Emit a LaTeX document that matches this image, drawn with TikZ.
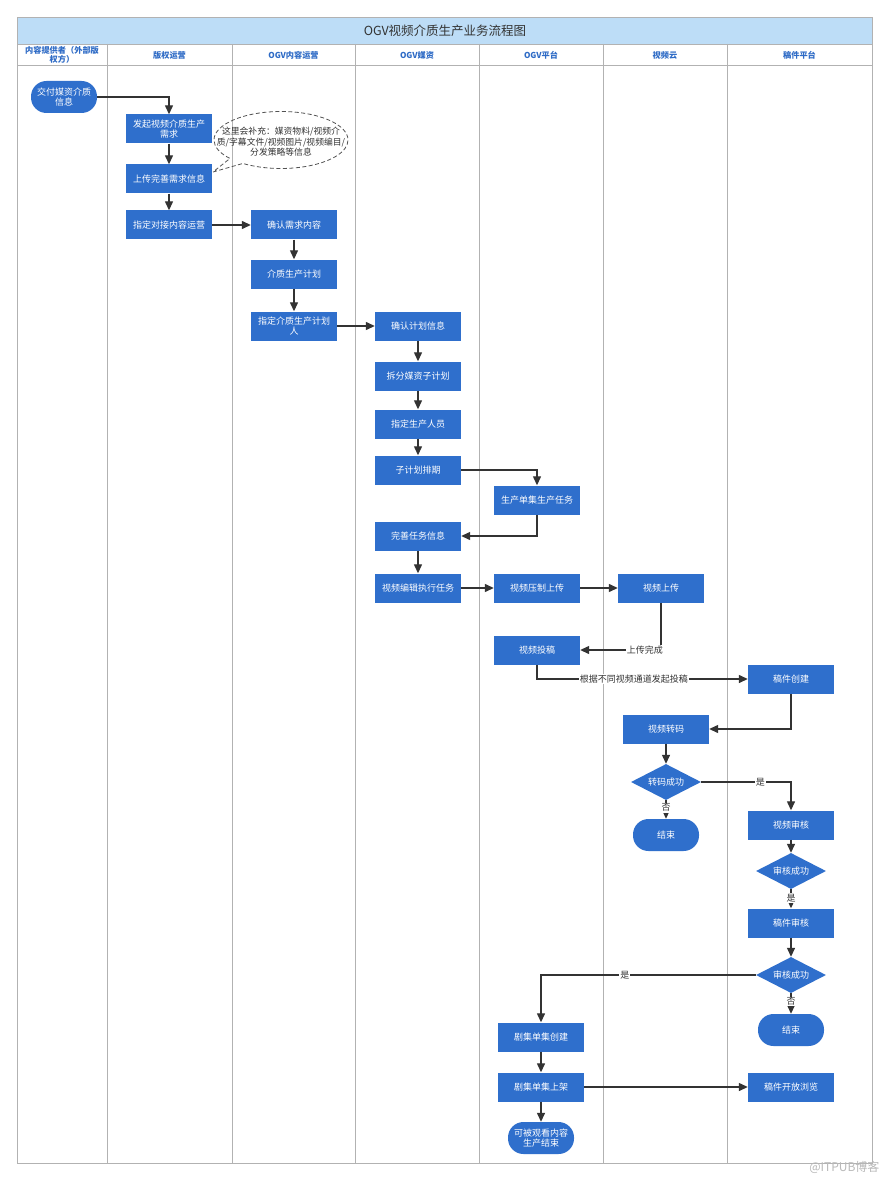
\documentclass[tikz,border=0pt]{standalone}
\usepackage{fontspec}
\setmainfont{Noto Sans CJK SC}
\usetikzlibrary{shapes.geometric,shapes.callouts,arrows.meta}
\definecolor{boxblue}{RGB}{47,111,204}
\definecolor{titlebg}{RGB}{189,221,247}
\definecolor{lanetext}{RGB}{46,107,198}
\definecolor{gridline}{RGB}{178,178,178}
\definecolor{arrowc}{RGB}{51,51,51}
\definecolor{wmark}{RGB}{185,185,185}
\tikzset{
 proc/.style={fill=boxblue, text=white, minimum width=86pt, minimum height=29pt, inner sep=1pt, align=center, font=\fontsize{9}{10.5}\selectfont},
 term/.style={fill=boxblue, text=white, rounded corners=15.5pt, minimum width=66pt, minimum height=32pt, inner sep=1pt, align=center, font=\fontsize{9}{10.5}\selectfont},
 dec/.style={diamond, fill=boxblue, text=white, minimum width=70pt, minimum height=36pt, inner sep=0pt, aspect=2, font=\fontsize{9}{10.5}\selectfont},
 flow/.style={draw=arrowc, line width=1.3pt, -{Triangle[length=9pt,width=8pt]}},
 lbl/.style={fill=white, text=arrowc, inner sep=1pt, font=\fontsize{9}{10}\selectfont},
 lane/.style={text=lanetext, align=center, font=\bfseries\fontsize{8.2}{9.5}\selectfont},
 grid/.style={draw=gridline, line width=0.8pt},
}
\begin{document}
\begin{tikzpicture}[x=1pt,y=-1pt]
\useasboundingbox (0,0) rectangle (890,1182);
\fill[white] (0,0) rectangle (890,1182);
% frame
\fill[titlebg] (17,17) rectangle (872,44);
\draw[grid] (17,17) rectangle (872,1163);
\draw[grid] (17,44) -- (872,44);
\draw[grid] (17,65) -- (872,65);
\foreach \x in {107,232,355,479,603,727} \draw[grid] (\x,44) -- (\x,1163);
\node[text=arrowc, font=\fontsize{12.5}{14}\selectfont] (title) at (445,31) {OGV视频介质生产业务流程图};
% lane labels
\node[lane] (l1) at (62,55) {内容提供者（外部版\\权方）};
\node[lane] (l2) at (169.5,55) {版权运营};
\node[lane] (l3) at (293.5,55) {OGV内容运营};
\node[lane] (l4) at (417,55) {OGV媒资};
\node[lane] (l5) at (541,55) {OGV平台};
\node[lane] (l6) at (665,55) {视频云};
\node[lane] (l7) at (799.5,55) {稿件平台};
% callout
\node[ellipse callout, draw=arrowc!85, dashed, dash pattern=on 4pt off 2.5pt, line width=0.8pt, minimum width=134pt, minimum height=57pt, inner sep=0pt, callout absolute pointer={(213,172)}] (note) at (281,140) {};
\node[text=arrowc, align=center, font=\fontsize{8.8}{10.5}\selectfont] (notetxt) at (281,142) {这里会补充：媒资物料/视频介\\质/字幕文件/视频图片/视频编目/\\分发策略等信息};
% nodes
\node[term] (a1) at (64,97) {交付媒资介质\\信息};
\node[proc] (b1) at (169,129) {发起视频介质生产\\需求};
\node[proc] (b2) at (169,179) {上传完善需求信息};
\node[proc] (b3) at (169,225) {指定对接内容运营};
\node[proc] (c1) at (294,225) {确认需求内容};
\node[proc] (c2) at (294,274) {介质生产计划};
\node[proc] (c3) at (294,326) {指定介质生产计划\\人};
\node[proc] (d1) at (418,326) {确认计划信息};
\node[proc] (d2) at (418,376) {拆分媒资子计划};
\node[proc] (d3) at (418,424) {指定生产人员};
\node[proc] (d4) at (418,470) {子计划排期};
\node[proc] (e1) at (537,500) {生产单集生产任务};
\node[proc] (d5) at (418,536) {完善任务信息};
\node[proc] (d6) at (418,588) {视频编辑执行任务};
\node[proc] (e2) at (537,588) {视频压制上传};
\node[proc] (f1) at (661,588) {视频上传};
\node[proc] (e3) at (537,650) {视频投稿};
\node[proc] (g1) at (791,679) {稿件创建};
\node[proc] (f2) at (666,729) {视频转码};
\node[dec] (f3) at (666,782) {转码成功};
\node[term] (f4) at (666,835) {结束};
\node[proc] (g2) at (791,825) {视频审核};
\node[dec] (g3) at (791,871) {审核成功};
\node[proc] (g4) at (791,923) {稿件审核};
\node[dec] (g5) at (791,975) {审核成功};
\node[term] (g6) at (791,1030) {结束};
\node[proc] (e4) at (541,1037) {剧集单集创建};
\node[proc] (e5) at (541,1087) {剧集单集上架};
\node[proc] (g7) at (791,1087) {稿件开放浏览};
\node[term] (e6) at (541,1138) {可被观看内容\\生产结束};
% connectors
\draw[flow] (a1.east) -| (b1.north);
\draw[flow] (b1) -- (b2);
\draw[flow] (b2) -- (b3);
\draw[flow] (b3) -- (c1);
\draw[flow] (c1) -- (c2);
\draw[flow] (c2) -- (c3);
\draw[flow] (c3) -- (d1);
\draw[flow] (d1) -- (d2);
\draw[flow] (d2) -- (d3);
\draw[flow] (d3) -- (d4);
\draw[flow] (d4.east) -| (e1.north);
\draw[flow] (e1.south) |- (d5.east);
\draw[flow] (d5) -- (d6);
\draw[flow] (d6) -- (e2);
\draw[flow] (e2) -- (f1);
\draw[flow] (f1.south) |- node[lbl, pos=0.6] {上传完成} (e3.east);
\draw[flow] (e3.south) |- node[lbl, pos=0.73] {根据不同视频通道发起投稿} (g1.west);
\draw[flow] (g1.south) |- (f2.east);
\draw[flow] (f2) -- (f3);
\draw[flow] (f3.south) -- node[lbl, pos=0.4] {否} (f4.north);
\draw[flow] (f3.east) -| node[lbl, pos=0.33] {是} (g2.north);
\draw[flow] (g2) -- (g3);
\draw[flow] (g3.south) -- node[lbl, pos=0.45] {是} (g4.north);
\draw[flow] (g4) -- (g5);
\draw[flow] (g5.south) -- node[lbl, pos=0.4] {否} (g6.north);
\draw[flow] (g5.west) -| node[lbl, pos=0.305] {是} (e4.north);
\draw[flow] (e4) -- (e5);
\draw[flow] (e5) -- (g7);
\draw[flow] (e5) -- (e6);
% watermark
\node[text=wmark, font=\fontsize{12}{13}\selectfont, anchor=east] (wm) at (883,1167) {@ITPUB博客};
\end{tikzpicture}
\end{document}
